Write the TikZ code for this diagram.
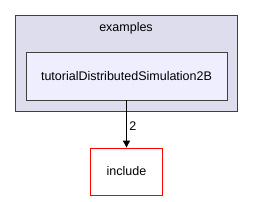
\documentclass[tikz,border=0pt]{standalone}
\usepackage{fontspec}
\setmainfont{Liberation Sans}
\usetikzlibrary{arrows.meta}
\begin{document}
\begin{tikzpicture}[x=1pt,y=1pt,
  cluster/.style={draw=black!75,fill={rgb,255:red,221;green,221;blue,238},line width=0.8pt},
  dirbox/.style={draw=black!75,fill={rgb,255:red,238;green,238;blue,255},line width=0.8pt},
  extbox/.style={draw=red,fill=white,line width=0.8pt},
  lbl/.style={font=\fontsize{12.5}{15}\selectfont,inner sep=0pt}]
\useasboundingbox (0,0) rectangle (253,201);
\draw[cluster] (15.5,90) rectangle (237.5,186);
\node[lbl] (ex) at (126,173) {examples};
\node[dirbox,minimum width=201pt,minimum height=48pt] (tut) at (126.5,125) {};
\node[lbl] at (tut.center) {tutorialDistributedSimulation2B};
\node[extbox,minimum width=72pt,minimum height=47pt] (inc) at (126.5,29.5) {};
\node[lbl] at (inc.center) {include};
\draw[-{Triangle[length=7pt,width=7pt]},line width=0.8pt] (tut.south) -- (inc.north) node[lbl,pos=0.55,right=2.5pt] {2};
\end{tikzpicture}
\end{document}
